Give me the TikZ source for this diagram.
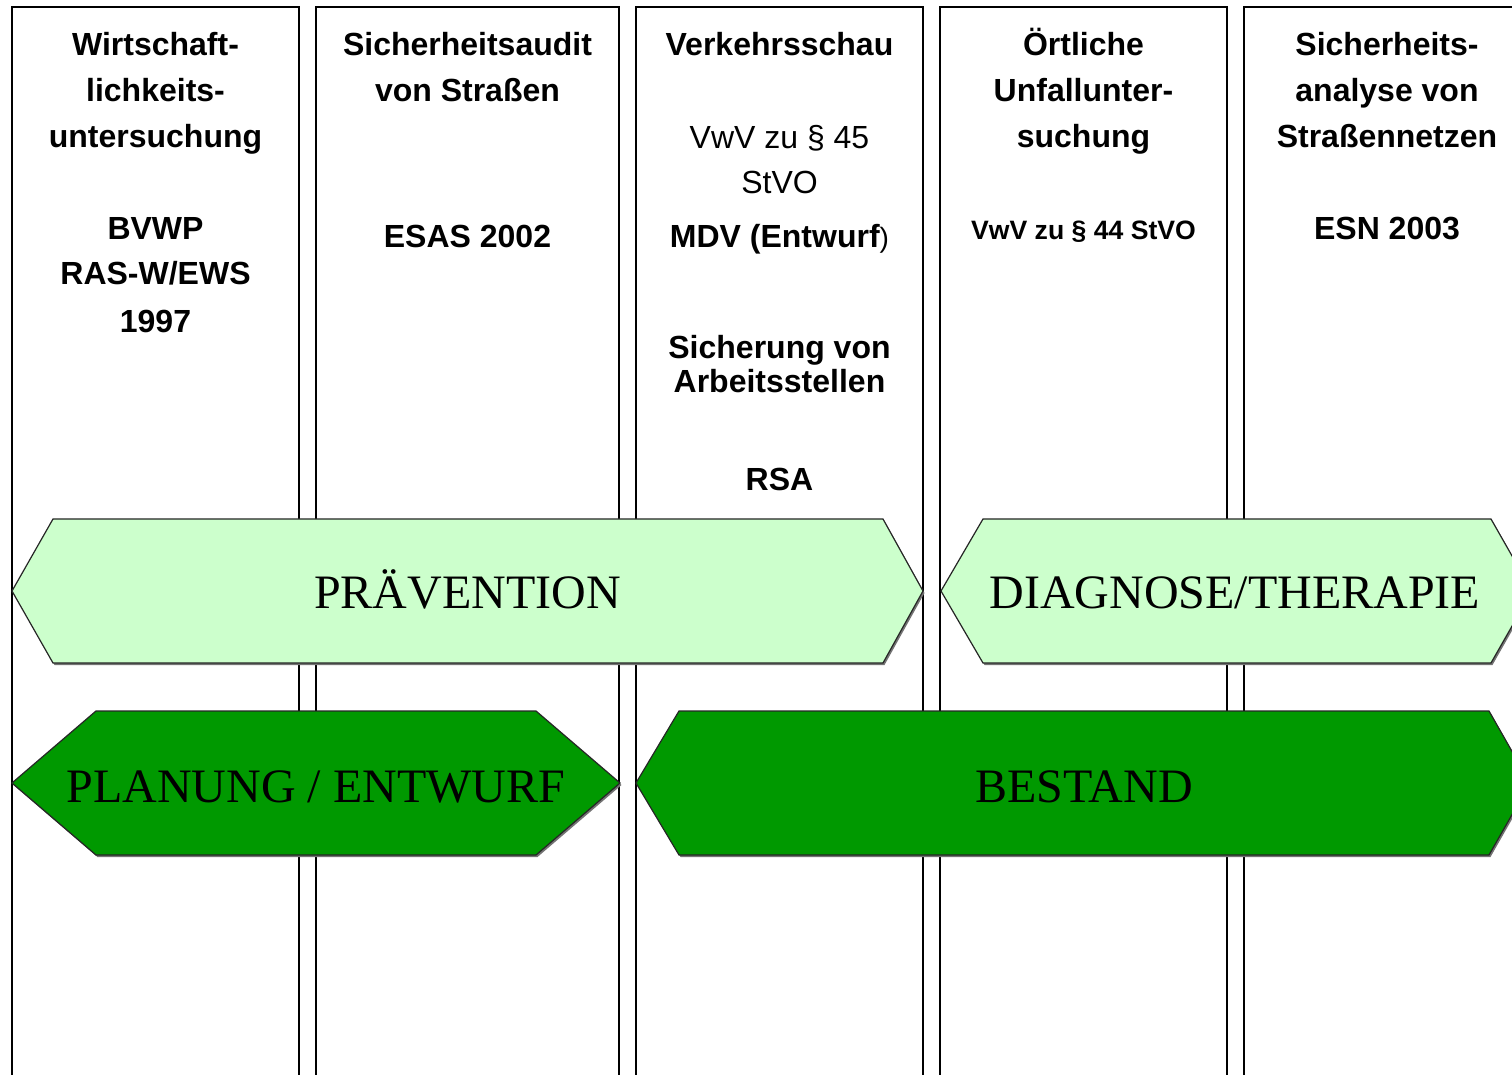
\documentclass[tikz,border=0pt]{standalone}
\usepackage{fontspec}
\setmainfont{Liberation Serif}
\newfontfamily\arialf{Liberation Sans}
\definecolor{lightgr}{HTML}{CCFFCC}
\definecolor{darkgr}{HTML}{009900}
\begin{document}
\begin{tikzpicture}[x=0.5pt,y=-0.5pt,
  colbox/.style={draw=black,line width=0.65pt,fill=white},
  hd/.style={font=\arialf\bfseries\fontsize{16}{19}\selectfont,anchor=base,inner sep=0pt},
  rg/.style={font=\arialf\fontsize{16}{19}\selectfont,anchor=base,inner sep=0pt},
  sm/.style={font=\arialf\bfseries\fontsize{13.3}{16}\selectfont,anchor=base,inner sep=0pt},
  big/.style={font=\fontsize{24}{28}\selectfont,anchor=base,inner sep=0pt},
  hexlight/.style={draw=black!85,line width=0.6pt,fill=lightgr},
  hexdark/.style={draw=black!85,line width=0.6pt,fill=darkgr},
  shad/.style={fill=black!55,draw=none}]
\useasboundingbox (0,0) rectangle (1512,1075);
\clip (0,0) rectangle (1512,1075);
% columns
\draw[colbox] (12,7) rectangle (299,1100);
\draw[colbox] (316,7) rectangle (619,1100);
\draw[colbox] (636,7) rectangle (923,1100);
\draw[colbox] (940,7) rectangle (1227,1100);
\draw[colbox] (1244,7) rectangle (1545,1100);
% column 1
\node[hd] (c1a) at (155.5,55.5) {Wirtschaft-};
\node[hd] (c1b) at (155.5,101.5) {lichkeits-};
\node[hd] (c1c) at (155.5,147.5) {untersuchung};
\node[hd] (c1d) at (155.5,239.5) {BVWP};
\node[hd] (c1e) at (155.5,285) {RAS-W/EWS};
\node[hd] (c1f) at (155.5,332.5) {1997};
% column 2
\node[hd] (c2a) at (467.5,55.5) {Sicherheitsaudit};
\node[hd] (c2b) at (467.5,101.5) {von Straßen};
\node[hd] (c2c) at (467.5,247.5) {ESAS 2002};
% column 3
\node[hd] (c3a) at (779.5,55.5) {Verkehrsschau};
\node[rg] (c3b) at (779.5,148.5) {VwV zu § 45};
\node[rg] (c3c) at (779.5,193.5) {StVO};
\node[hd] (c3d) at (779.5,247.5) {MDV (Entwurf{\mdseries\fontsize{14}{16}\selectfont )}};
\node[hd] (c3e) at (779.5,358.5) {Sicherung von};
\node[hd] (c3f) at (779.5,392.5) {Arbeitsstellen};
\node[hd] (c3g) at (779.5,490.5) {RSA};
% column 4
\node[hd] (c4a) at (1083.5,55.5) {Örtliche};
\node[hd] (c4b) at (1083.5,101.5) {Unfallunter-};
\node[hd] (c4c) at (1083.5,147.5) {suchung};
\node[sm] (c4d) at (1083.5,239.5) {VwV zu § 44 StVO};
% column 5
\node[hd] (c5a) at (1387,55.5) {Sicherheits-};
\node[hd] (c5b) at (1387,101.5) {analyse von};
\node[hd] (c5c) at (1387,147.5) {Straßennetzen};
\node[hd] (c5d) at (1387,239.5) {ESN 2003};
% hexagons: shadows
\fill[shad,shift={(1.5,2)}] (12,591) -- (53,519) -- (883,519) -- (923,591) -- (883,663) -- (53,663) -- cycle;
\fill[shad,shift={(1.5,2)}] (941,591) -- (983,519) -- (1491,519) -- (1532,591) -- (1491,663) -- (983,663) -- cycle;
\fill[shad,shift={(1.5,2)}] (12,783) -- (96,711) -- (536,711) -- (620,783) -- (536,855) -- (96,855) -- cycle;
\fill[shad,shift={(1.5,2)}] (636,783) -- (679,711) -- (1489,711) -- (1530,783) -- (1489,855) -- (679,855) -- cycle;
% hexagons
\draw[hexlight] (12,591) -- (53,519) -- (883,519) -- (923,591) -- (883,663) -- (53,663) -- cycle;
\draw[hexlight] (941,591) -- (983,519) -- (1491,519) -- (1532,591) -- (1491,663) -- (983,663) -- cycle;
\draw[hexdark] (12,783) -- (96,711) -- (536,711) -- (620,783) -- (536,855) -- (96,855) -- cycle;
\draw[hexdark] (636,783) -- (679,711) -- (1489,711) -- (1530,783) -- (1489,855) -- (679,855) -- cycle;
\node[big] (prav) at (467.5,609) {PRÄVENTION};
\node[big] (diag) at (1235,609) {DIAGNOSE/THERAPIE};
\node[big] (plan) at (316,802) {PLANUNG / ENTWURF};
\node[big] (best) at (1084,802) {BESTAND};
\end{tikzpicture}
\end{document}
